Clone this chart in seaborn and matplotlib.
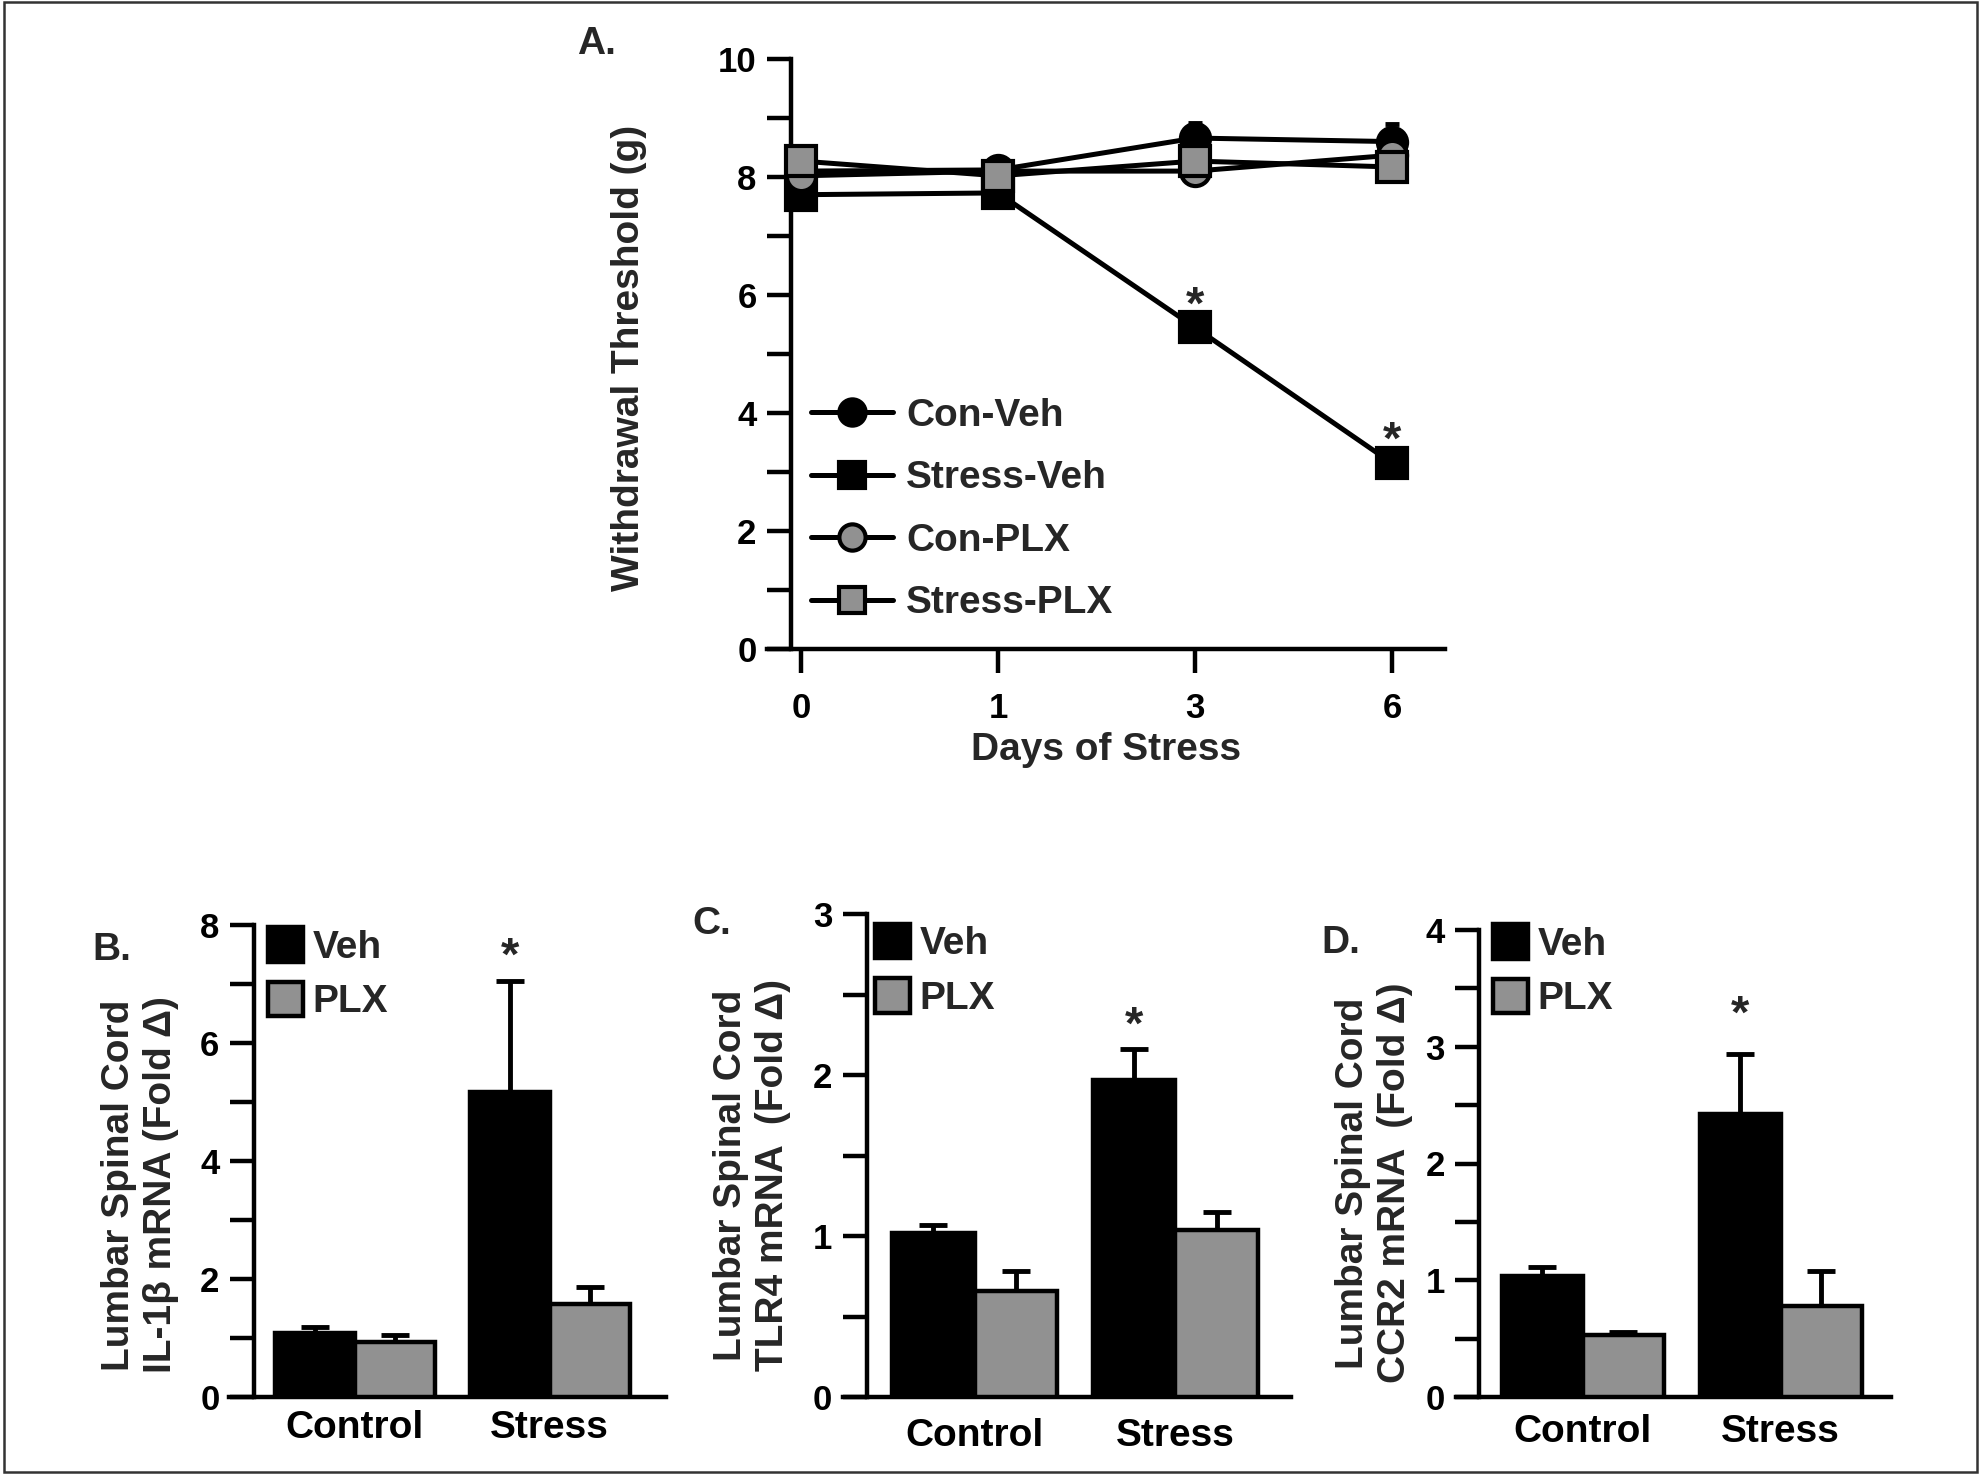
import numpy as np
import pandas as pd
import matplotlib.pyplot as plt
import seaborn as sns
from matplotlib.patches import Rectangle
from matplotlib.ticker import MultipleLocator

# ---- panel A: withdrawal threshold over days ----
days = ['0', '1', '3', '6']
con_veh = [8.1, 8.12, 8.66, 8.6]
con_veh_err = [0.12, 0.12, 0.25, 0.3]
stress_veh = [7.7, 7.73, 5.45, 3.15]
stress_veh_err = [0.12, 0.1, 0.2, 0.2]
con_plx = [8.02, 8.1, 8.1, 8.37]
con_plx_err = [0.1, 0.1, 0.1, 0.1]
stress_plx = [8.27, 8.02, 8.27, 8.17]
stress_plx_err = [0.1, 0.1, 0.1, 0.1]
star_days = ['3', '6']
star_a_y = [5.8, 3.52]

# ---- panels B-D: mRNA fold change ----
groups = ['Control', 'Stress']
il1b_veh = [1.08, 5.17]
il1b_veh_err = [0.1, 1.88]
il1b_plx = [0.93, 1.57]
il1b_plx_err = [0.12, 0.3]
tlr4_veh = [1.02, 1.97]
tlr4_veh_err = [0.05, 0.19]
tlr4_plx = [0.66, 1.04]
tlr4_plx_err = [0.12, 0.11]
ccr2_veh = [1.04, 2.42]
ccr2_veh_err = [0.07, 0.52]
ccr2_plx = [0.53, 0.78]
ccr2_plx_err = [0.03, 0.3]

GRAY = '#919191'
W, H = 1984, 1474

sns.set_style('ticks')
plt.rcParams['font.family'] = ['Liberation Sans', 'DejaVu Sans']
plt.rcParams['font.weight'] = 'bold'
plt.rcParams['axes.labelweight'] = 'bold'
plt.rcParams['axes.linewidth'] = 3.2
plt.rcParams['axes.edgecolor'] = 'black'
plt.rcParams['xtick.color'] = 'black'
plt.rcParams['ytick.color'] = 'black'

fig = plt.figure(figsize=(W / 100, H / 100), dpi=100)


def add_ax(left, right, top, bottom):
    return fig.add_axes([left / W, 1 - bottom / H, (right - left) / W, (bottom - top) / H])


def ftext(x, y, s, **kw):
    fig.text(x / W, 1 - y / H, s, ha='center', va='center', fontweight='bold', **kw)


def style_axis(ax, spine_x, major, minor):
    sns.despine(ax=ax)
    ax.spines['left'].set_position(('data', spine_x))
    ax.yaxis.set_major_locator(MultipleLocator(major))
    ax.yaxis.set_minor_locator(MultipleLocator(minor))
    ax.tick_params(axis='y', which='both', length=17, width=3.2, direction='out',
                   labelsize=25, pad=8)


# ---------------- Panel A ----------------
axA = add_ax(767, 1445, 59, 649)
pos = np.arange(len(days))
series = [
    ('Con-Veh', con_veh, con_veh_err, 'o', 'black'),
    ('Stress-Veh', stress_veh, stress_veh_err, 's', 'black'),
    ('Con-PLX', con_plx, con_plx_err, 'o', GRAY),
    ('Stress-PLX', stress_plx, stress_plx_err, 's', GRAY),
]
for name, vals, err, mk, fc in series:
    axA.errorbar(pos, vals, yerr=[np.zeros(len(err)), err], fmt='none',
                 ecolor='black', elinewidth=3.5, capsize=5, capthick=3.5, zorder=2)
for name, vals, err, mk, fc in series:
    sns.lineplot(x=pos, y=vals, ax=axA, color='black', linewidth=3.6, marker=mk,
                 markersize=21, markerfacecolor=fc, markeredgecolor='black',
                 markeredgewidth=3, label=name, zorder=3)
for d, y in zip(star_days, star_a_y):
    axA.text(days.index(d), y, '*', ha='center', va='center', fontsize=34,
             fontweight='bold')

axA.set_xlim(-0.173, 3.269)
axA.set_ylim(0, 10)
style_axis(axA, -0.05, 2, 1)
axA.set_xticks(pos)
axA.set_xticklabels(days)
axA.tick_params(axis='x', length=17, width=3.2, direction='out', labelsize=25, pad=14)
axA.set_xlabel('Days of Stress', fontsize=28, fontweight='bold', labelpad=5)
axA.set_ylabel('')
axA.legend(loc='upper left', bbox_to_anchor=((811 - 767) / 678, (649 - 398) / 590),
           frameon=False, fontsize=28, handlelength=2.1, handletextpad=0.35,
           labelspacing=0.68, borderpad=0, borderaxespad=0, markerscale=0.9)
ftext(629, 358, 'Withdrawal Threshold (g)', rotation=90, fontsize=28)
ftext(596, 44, 'A.', fontsize=28)


# ---------------- Panels B-D ----------------
def bar_panel(rect, xlim, spine_x, veh, veh_err, plx, plx_err, ymax, major, minor,
              star_y, leg_xy, xpad):
    ax = add_ax(*rect)
    df = pd.DataFrame({
        'group': groups + groups,
        'treatment': ['Veh'] * len(groups) + ['PLX'] * len(groups),
        'value': veh + plx,
    })
    sns.barplot(data=df, x='group', y='value', hue='treatment',
                palette={'Veh': 'black', 'PLX': GRAY}, width=0.82, saturation=1,
                edgecolor='black', linewidth=3.2, errorbar=None, ax=ax, zorder=3)
    for cont, errs in zip(ax.containers, [veh_err, plx_err]):
        for bar, e in zip(cont, errs):
            xc = bar.get_x() + bar.get_width() / 2
            ax.errorbar(xc, bar.get_height(), yerr=[[0], [e]], fmt='none',
                        ecolor='black', elinewidth=3.5, capsize=10, capthick=3.5, zorder=2)
    sb = ax.containers[0][1]
    ax.text(sb.get_x() + sb.get_width() / 2, star_y, '*', ha='center', va='center',
            fontsize=34, fontweight='bold')
    ax.set_xlim(*xlim)
    ax.set_ylim(0, ymax)
    style_axis(ax, spine_x, major, minor)
    ax.tick_params(axis='x', length=0, labelsize=28, pad=xpad)
    ax.set_xlabel('')
    ax.set_ylabel('')
    ax.legend(loc='upper left', bbox_to_anchor=leg_xy, frameon=False,
              fontsize=28, handlelength=0.9, handleheight=1.0, handletextpad=0.25,
              labelspacing=0.4, borderpad=0, borderaxespad=0)
    return ax


bar_panel((229, 666, 925, 1397), (-0.644, 1.597), -0.515, il1b_veh, il1b_veh_err,
          il1b_plx, il1b_plx_err, 8, 2, 1, 7.45, ((268 - 229) / 437, 0.995), 9)
bar_panel((843.5, 1291, 914, 1397), (-0.652, 1.575), -0.535, tlr4_veh, tlr4_veh_err,
          tlr4_plx, tlr4_plx_err, 3, 1, 0.5, 2.3, ((875 - 843.5) / 447.5, 0.98), 15)
bar_panel((1455.5, 1891, 930, 1397), (-0.645, 1.559), -0.524, ccr2_veh, ccr2_veh_err,
          ccr2_plx, ccr2_plx_err, 4, 1, 0.5, 3.27, ((1493 - 1455.5) / 435.5, 1.012), 12)

ftext(140, 1185, 'Lumbar Spinal Cord\nIL-1\u03b2 mRNA (Fold \u0394)', rotation=90,
      fontsize=28, linespacing=1.2)
ftext(752, 1175, 'Lumbar Spinal Cord\nTLR4 mRNA  (Fold \u0394)', rotation=90,
      fontsize=28, linespacing=1.2)
ftext(1374, 1183, 'Lumbar Spinal Cord\nCCR2 mRNA  (Fold \u0394)', rotation=90,
      fontsize=28, linespacing=1.2)
ftext(112, 950, 'B.', fontsize=28)
ftext(712, 924, 'C.', fontsize=28)
ftext(1341, 943, 'D.', fontsize=28)

fig.patches.append(Rectangle((4 / W, 2 / H), 1973 / W, 1470 / H, transform=fig.transFigure,
                             fill=False, edgecolor='#333333', linewidth=1.8))

fig.savefig('out.png', dpi=100)
